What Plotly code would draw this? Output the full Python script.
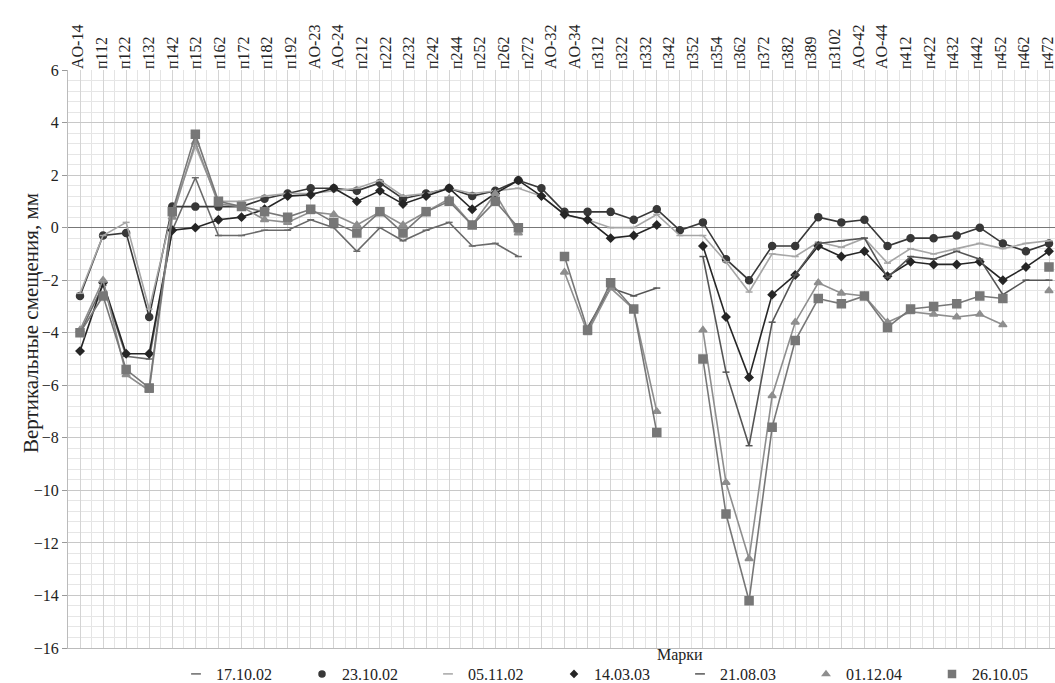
import plotly.graph_objects as go

labels = ["AO-14", "п112", "п122", "п132", "п142", "п152", "п162", "п172", "п182", "п192",
          "AO-23", "AO-24", "п212", "п222", "п232", "п242", "п244", "п252", "п262", "п272",
          "AO-32", "AO-34", "п312", "п322", "п332", "п342", "п352", "п354", "п362", "п372",
          "п382", "п389", "п3102", "AO-42", "AO-44", "п412", "п422", "п432", "п442", "п452",
          "п462", "п472"]

points = list(range(43))
N = None

s_171002 = [-4.0, -2.2, -4.9, -5.0, -0.1, 1.9, -0.3, -0.3, -0.1, -0.1,
            0.3, 0.0, -0.9, 0.0, -0.5, -0.1, 0.2, -0.7, -0.6, -1.1,
            N, N, N, N, N, N, N, N, N, N,
            N, N, N, N, N, N, N, N, N, N, N, N, N]
s_231002 = [-2.6, -0.3, -0.2, -3.4, 0.8, 0.8, 0.8, 0.8, 1.1, 1.3,
            1.5, 1.5, 1.4, 1.7, 1.1, 1.3, 1.5, 1.2, 1.4, 1.8,
            1.5, 0.6, 0.6, 0.6, 0.3, 0.7, -0.1, 0.2, -1.2, -2.0,
            -0.7, -0.7, 0.4, 0.2, 0.3, -0.7, -0.4, -0.4, -0.3, 0.0,
            -0.6, -0.9, -0.6]
s_051102 = [-2.5, -0.3, 0.2, -3.1, 0.6, 3.1, 1.0, 1.0, 1.2, 1.3,
            1.3, 1.4, 1.5, 1.8, 1.2, 1.3, 1.5, 1.3, 1.4, 1.5,
            1.2, 0.5, 0.3, 0.0, 0.0, 0.5, -0.3, -0.3, -1.3, -2.45,
            -1.0, -1.1, -0.55, -0.75, -0.4, -1.35, -0.8, -1.0, -0.8, -0.6,
            -0.8, -0.6, -0.5]
s_140303 = [-4.7, -2.1, -4.8, -4.8, -0.1, 0.0, 0.3, 0.4, 0.7, 1.2,
            1.25, 1.5, 1.0, 1.4, 0.9, 1.2, 1.5, 0.7, 1.3, 1.8,
            1.2, 0.5, 0.3, -0.4, -0.3, 0.1, N, -0.7, -3.4, -5.7,
            -2.55, -1.8, -0.7, -1.1, -0.9, -1.85, -1.3, -1.4, -1.4, -1.3,
            -2.0, -1.5, -0.9]
s_210803 = [N, N, N, N, N, N, N, N, N, N,
            N, N, N, N, N, N, N, N, N, N,
            N, N, -3.8, -2.3, -2.6, -2.3, N, -1.1, -5.5, -8.3,
            -3.6, -1.8, -0.6, -0.5, -0.4, -1.9, -1.1, -1.2, -0.9, -1.2,
            -2.55, -2.0, -2.0]
s_011204 = [-3.9, -2.0, -5.6, -6.2, 0.4, 3.25, 0.9, 0.8, 0.3, 0.2,
            0.6, 0.5, 0.1, 0.6, 0.1, 0.6, 1.1, 0.1, 1.3, -0.2,
            N, -1.7, -4.0, -2.3, -3.1, -7.0, N, -3.9, -9.7, -12.6,
            -6.4, -3.6, -2.1, -2.5, -2.6, -3.6, -3.2, -3.3, -3.4, -3.3,
            -3.7, N, -2.4]
s_261005 = [-4.0, -2.6, -5.4, -6.1, 0.6, 3.55, 1.0, 0.8, 0.6, 0.4,
            0.7, 0.2, -0.2, 0.6, -0.2, 0.6, 1.0, 0.1, 1.0, 0.0,
            N, -1.1, -3.9, -2.1, -3.1, -7.8, N, -5.0, -10.9, -14.2,
            -7.6, -4.3, -2.7, -2.9, -2.6, -3.8, -3.1, -3.0, -2.9, -2.6,
            -2.7, N, -1.5]

series = [
    ("17.10.02", s_171002, "#6a6a6a", "line-ew", 5),
    ("23.10.02", s_231002, "#383838", "circle", 7),
    ("05.11.02", s_051102, "#a6a6a6", "line-ew", 5),
    ("14.03.03", s_140303, "#262626", "diamond", 6),
    ("21.08.03", s_210803, "#555555", "line-ew", 5),
    ("01.12.04", s_011204, "#8e8e8e", "triangle-up", 7),
    ("26.10.05", s_261005, "#777777", "square", 8),
]

fig = go.Figure()
for name, vals, col, sym, sz in series:
    fig.add_trace(go.Scatter(
        x=points, y=vals, mode="lines+markers", name=name, showlegend=False,
        line=dict(color=col, width=1.6),
        marker=dict(symbol=sym, size=sz, color=col, line=dict(color=col, width=1.5)),
        connectgaps=False))
for name, vals, col, sym, sz in series:
    fig.add_trace(go.Scatter(
        x=[None], y=[None], mode="markers", name=name, showlegend=True,
        marker=dict(symbol=sym, size=7 if sym == "line-ew" else sz - 1, color=col,
                    line=dict(color=col, width=1.5))))

# category labels along the top
fig.add_trace(go.Scatter(x=labels, y=[0] * len(labels), xaxis="x2", mode="markers",
                         marker=dict(opacity=0), showlegend=False, hoverinfo="skip"))

font_family = "'Liberation Serif', Tinos, 'DejaVu Serif', 'Times New Roman', serif"

fig.update_layout(
    width=1055, height=683,
    margin=dict(l=68, r=0, t=70, b=35, autoexpand=False),
    paper_bgcolor="white", plot_bgcolor="white",
    font=dict(family=font_family, size=16, color="#222"),
    xaxis=dict(range=[-0.52, 42.26], showticklabels=False, ticks="",
               dtick=1, tick0=0, showgrid=True, gridcolor="#d4d4d4", gridwidth=1,
               minor=dict(dtick=0.5, tick0=0, showgrid=True, gridcolor="#e4e4e4"),
               zeroline=False, showline=True, linecolor="#bbbbbb"),
    xaxis2=dict(type="category", categoryorder="array", categoryarray=labels,
                overlaying="x", side="top", range=[-0.42, 41.31],
                tickangle=-90, showgrid=False, ticks="", zeroline=False,
                tickfont=dict(family=font_family, size=16, color="#222")),
    yaxis=dict(range=[-16, 6], dtick=2, tick0=0, showgrid=True, gridcolor="#c8c8c8",
               minor=dict(dtick=0.4, tick0=0, showgrid=True, gridcolor="#e6e6e6"),
               zeroline=True, zerolinecolor="#777777", zerolinewidth=1.2,
               ticks="outside", ticklen=5, tickcolor="#999999",
               showline=True, linecolor="#bbbbbb",
               tickfont=dict(family=font_family, size=16, color="#222")),
    legend=dict(orientation="h", x=(176 - 68) / 987, xref="paper",
                y=(648 - 657) / 578, yanchor="top",
                entrywidth=81, entrywidthmode="pixels",
                font=dict(family=font_family, size=16, color="#222"),
                bgcolor="rgba(0,0,0,0)"),
    annotations=[
        dict(text="Вертикальные смещения, мм", xref="paper", yref="paper",
             x=(17 - 68) / 987, y=(648 - 323) / 578, textangle=-90, showarrow=False,
             font=dict(family=font_family, size=21, color="#222")),
        dict(text="Марки", xref="paper", yref="paper",
             x=(680 - 68) / 987, y=(648 - 655) / 578, showarrow=False,
             xanchor="center", yanchor="middle",
             font=dict(family=font_family, size=16, color="#222")),
    ],
)

fig.write_html("out.html")
